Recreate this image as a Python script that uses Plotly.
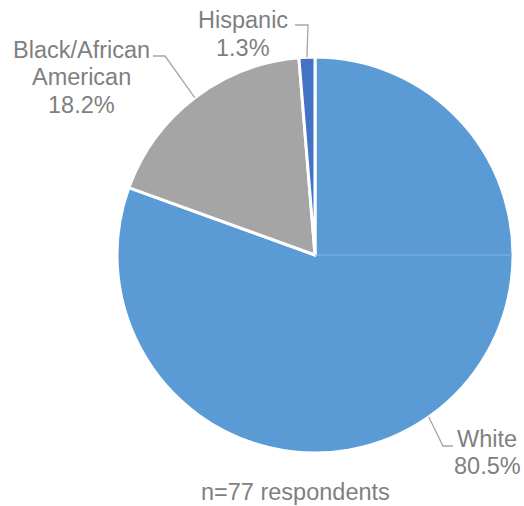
import math
import plotly.graph_objects as go

# ---- data ----
categories = ["White", "Black/African American", "Hispanic"]
counts = [62, 14, 1]
label_lines = [["White"], ["Black/African", "American"], ["Hispanic"]]
colors = ["#5B9BD5", "#A5A5A5", "#4472C4"]
note = "n=77 respondents"

# ---- layout (pixels) ----
W, H = 524, 506
cx, cy, r = 315, 255, 198
FONT = "Liberation Sans, Arial"
FS = 23.5
TXT = "#7F7F7F"
LEAD = "#A6A6A6"
LINE_STEP = 27.3
# label block: (center x, first line center y), leader elbow, leader end
label_pos = [(487, 438), (81, 49), (242.5, 19.5)]
elbows = [(443, 446), (165, 56), (308, 25)]
ends = [(453, 446), (153, 56), (295, 25)]


def px(x):
    return x / W


def py(y):
    return 1 - y / H


fig = go.Figure(go.Pie(
    labels=categories,
    values=counts,
    textinfo="none",
    marker=dict(colors=colors, line=dict(color="white", width=3)),
    sort=False,
    direction="clockwise",
    rotation=0,
    showlegend=False,
    hoverinfo="label+percent",
    domain=dict(x=[px(cx - r), px(cx + r)], y=[py(cy + r), py(cy - r)]),
))

total = sum(counts)
cum = 0
for i, (cat, v) in enumerate(zip(categories, counts)):
    mid = (cum + v / 2) / total * 2 * math.pi
    cum += v
    sx, sy = cx + r * math.sin(mid), cy - r * math.cos(mid)
    (ex, ey), (fx, fy) = elbows[i], ends[i]
    fig.add_shape(type="path", xref="paper", yref="paper",
                  path=f"M {px(sx)},{py(sy)} L {px(ex)},{py(ey)} L {px(fx)},{py(fy)}",
                  line=dict(color=LEAD, width=1.3))
    lines = label_lines[i] + [f"{v / total * 100:.1f}%"]
    lx, ly = label_pos[i]
    for k, t in enumerate(lines):
        fig.add_annotation(text=t, x=px(lx), y=py(ly + k * LINE_STEP + 1),
                           xref="paper", yref="paper", showarrow=False,
                           xanchor="center", yanchor="middle",
                           font=dict(family=FONT, size=FS, color=TXT))

# faint seam visible in the reference rendering
fig.add_shape(type="line", xref="paper", yref="paper",
              x0=px(cx), y0=py(cy), x1=px(cx + r - 1), y1=py(cy),
              line=dict(color="#84B3E0", width=1))

fig.add_annotation(
    text=note, x=px(295), y=py(492), xref="paper", yref="paper",
    showarrow=False, xanchor="center", yanchor="middle",
    font=dict(family=FONT, size=FS, color=TXT),
)

fig.update_layout(
    width=W, height=H,
    margin=dict(l=0, r=0, t=0, b=0),
    paper_bgcolor="white", plot_bgcolor="white",
)

fig.write_html("out.html", config={"displayModeBar": False},
               post_script="document.body.style.margin='0';")
